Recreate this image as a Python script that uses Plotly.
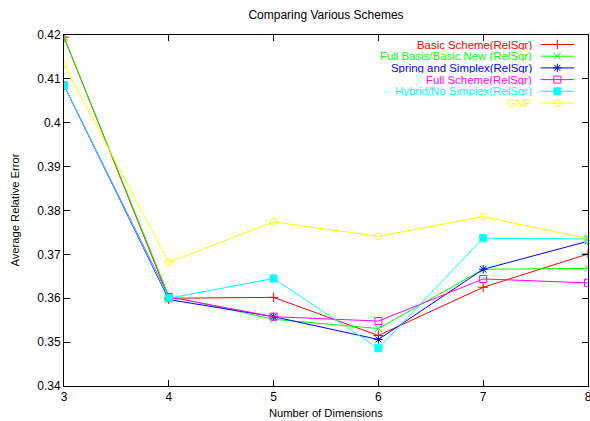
import plotly.graph_objects as go

# Dimensions evaluated
dimensions = [3, 4, 5, 6, 7, 8]

# Average relative error per scheme
basic_scheme = [0.4195, 0.3600, 0.3602, 0.3515, 0.3625, 0.3701]
full_basis_new = [0.4195, 0.3605, 0.3552, 0.3531, 0.3666, 0.3668]
spring_simplex = [0.4085, 0.3597, 0.3558, 0.3506, 0.3666, 0.3730]
full_scheme = [0.4085, 0.3603, 0.3558, 0.3548, 0.3644, 0.3635]
hybrid_no_simplex = [0.4085, 0.3600, 0.3645, 0.3486, 0.3737, 0.3735]
gnp = [0.4133, 0.3682, 0.3774, 0.3741, 0.3786, 0.3736]

series_names = [
    "Basic Scheme(RelSqr)",
    "Full Basis/Basic New (RelSqr)",
    "Spring and Simplex(RelSqr)",
    "Full Scheme(RelSqr)",
    "Hybrid/No Simplex(RelSqr)",
    "GNP",
]
series_values = [basic_scheme, full_basis_new, spring_simplex, full_scheme,
                 hybrid_no_simplex, gnp]
colors = ["#ff0000", "#00ff00", "#0000ff", "#ff00ff", "#00ffff", "#ffff00"]
symbols = ["cross-thin-open", "x-thin-open", "asterisk-open", "square-open",
           "square", "circle-open"]

y_ticks = [0.34, 0.35, 0.36, 0.37, 0.38, 0.39, 0.40, 0.41, 0.42]
y_tick_text = ["0.34", "0.35", "0.36", "0.37", "0.38", "0.39", "0.4", "0.41", "0.42"]

W, H = 590, 421
ML, MR, MT, MB = 64, 2, 35, 35
PW, PH = W - ML - MR, H - MT - MB
FONT = "Liberation Sans, Arial, Helvetica, sans-serif"

fig = go.Figure()

for name, vals, col, sym in zip(series_names, series_values, colors, symbols):
    fig.add_trace(go.Scatter(
        x=dimensions, y=vals, name=name, mode="lines+markers",
        line=dict(color=col, width=1),
        marker=dict(symbol=sym, size=7, color=col,
                    line=dict(color=col, width=1)),
        showlegend=False,
    ))

# Key drawn in the top-right corner: text on the left, sample on the right
row0, row_step = 9.5, 11.7
for i, (name, col, sym) in enumerate(zip(series_names, colors, symbols)):
    ry = row0 + i * row_step
    fig.add_trace(go.Scatter(
        x=[476.7, 493.3, 510], y=[ry, ry, ry], mode="lines",
        line=dict(color=col, width=1), xaxis="x2", yaxis="y2",
        showlegend=False, hoverinfo="skip",
    ))
    fig.add_trace(go.Scatter(
        x=[493.3], y=[ry], mode="markers",
        marker=dict(symbol=sym, size=7, color=col,
                    line=dict(color=col, width=1)),
        xaxis="x2", yaxis="y2", showlegend=False, hoverinfo="skip",
    ))
    fig.add_annotation(
        x=468.5, y=ry, xref="x2", yref="y2", text=name, showarrow=False,
        xanchor="right", yanchor="middle", borderpad=0, height=10,
        font=dict(family=FONT, size=11.4, color=col),
    )

axis_common = dict(
    showgrid=False, zeroline=False, showline=True, linecolor="black",
    linewidth=1, mirror="allticks", ticks="inside", ticklen=6,
    tickcolor="black", tickfont=dict(family=FONT, size=12, color="black"),
    ticklabeloverflow="allow", automargin=False,
)

fig.update_layout(
    width=W, height=H,
    margin=dict(l=ML, r=MR, t=MT, b=MB, autoexpand=False),
    paper_bgcolor="white", plot_bgcolor="white",
    font=dict(family=FONT, size=12, color="black"),
    title=dict(text="Comparing Various Schemes", x=(ML + PW / 2) / W,
               xanchor="center", y=1 - 15 / H, yanchor="middle",
               yref="container", font=dict(family=FONT, size=12)),
    xaxis=dict(range=[3, 8], tickvals=dimensions, **axis_common),
    yaxis=dict(range=[0.34, 0.42], tickvals=y_ticks, ticktext=y_tick_text,
               **axis_common),
    xaxis2=dict(overlaying="x", range=[0, PW], visible=False, fixedrange=True),
    yaxis2=dict(overlaying="y", range=[PH, 0], visible=False, fixedrange=True),
    annotations=list(fig.layout.annotations) + [
        dict(text="Number of Dimensions", x=0.5, y=-(413 - MT - PH) / PH,
             xref="paper", yref="paper", showarrow=False, xanchor="center",
             yanchor="middle", font=dict(family=FONT, size=11.2)),
        dict(text="Average Relative Error", x=-(ML - 14) / PW, y=0.5,
             xref="paper", yref="paper", showarrow=False, textangle=-90,
             xanchor="center", yanchor="middle", font=dict(family=FONT, size=11.2)),
    ],
)

fig.write_html("out.html")
